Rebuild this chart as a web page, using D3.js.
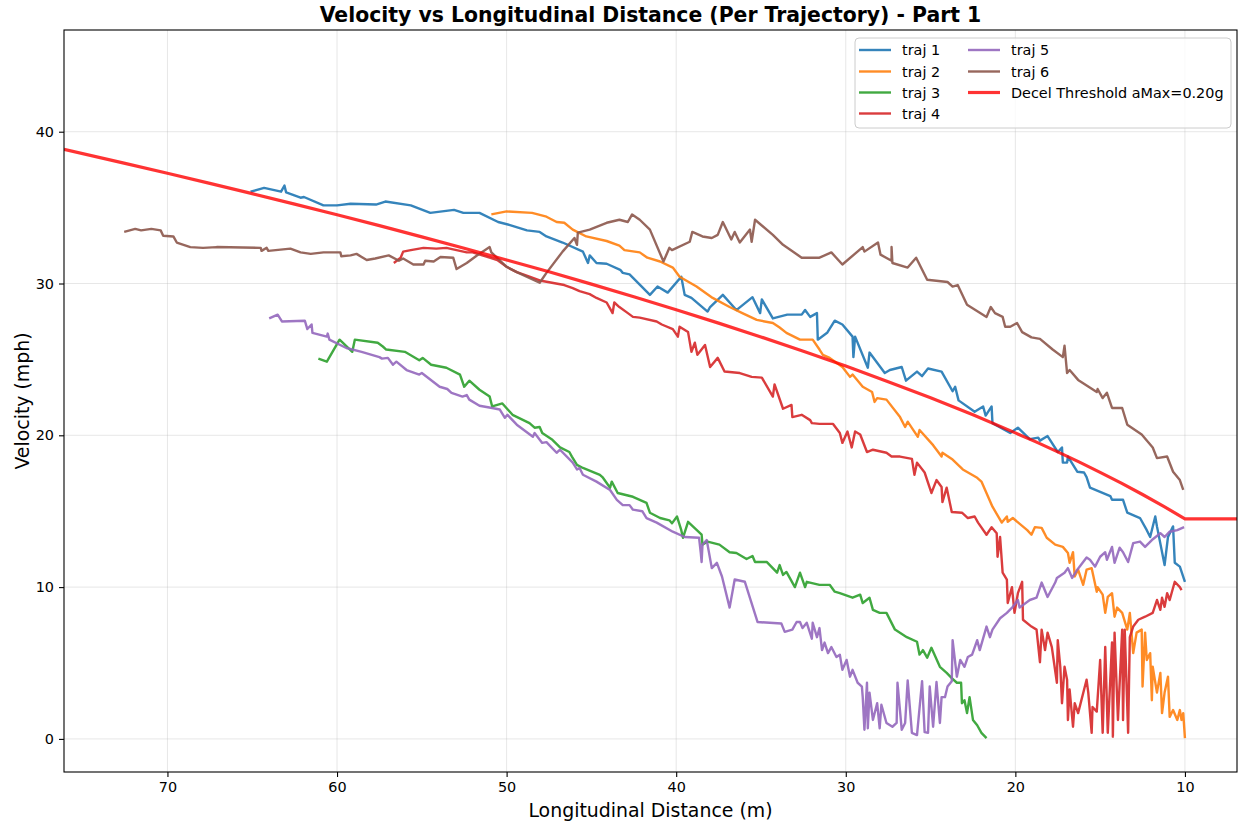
<!DOCTYPE html>
<html>
<head>
<meta charset="utf-8">
<script src="https://cdn.jsdelivr.net/npm/d3@7"></script>
<style>
  html, body { margin: 0; padding: 0; background: #ffffff; }
  svg { display: block; font-family: "DejaVu Sans", sans-serif; }
</style>
</head>
<body>
<svg id="chart" width="1238" height="826"></svg>
<script>
// Each trajectory: [longitudinal distance (m), velocity (mph)]
const traj1 = [[65.1,36.05],[64.3,36.3],[63.3,36.05],[63.1,36.45],[63.0,36.0],[62.15,35.65],[61.95,35.7],[60.8,35.15],[60.0,35.15],[59.2,35.25],[57.7,35.2],[57.15,35.4],[55.65,35.15],[54.5,34.65],[53.1,34.85],[52.55,34.65],[51.6,34.65],[50.5,34.05],[49.8,33.85],[48.8,33.5],[48.05,33.4],[47.65,33.1],[46.7,32.7],[45.5,32.1],[45.2,31.35],[45.1,31.85],[44.7,31.35],[44.1,31.3],[43.3,30.9],[43.15,30.7],[42.75,30.6],[41.55,29.25],[41.1,29.8],[40.5,29.4],[39.7,30.45],[39.5,29.25],[39.1,29.05],[38.15,28.15],[38.0,28.45],[37.25,29.25],[36.45,28.25],[35.5,29.1],[35.05,28.05],[34.95,28.95],[34.3,27.7],[33.45,27.95],[32.6,27.95],[32.4,28.25],[32.1,27.8],[31.7,28.05],[31.65,26.3],[31.1,26.75],[30.65,27.55],[30.2,27.3],[29.6,26.5],[29.55,25.15],[29.45,26.5],[28.7,24.45],[28.6,25.45],[27.7,24.1],[27.4,24.3],[26.7,24.5],[26.45,23.6],[25.8,24.2],[25.5,23.9],[25.15,24.4],[24.35,24.2],[23.7,22.9],[23.55,23.2],[23.35,22.3],[22.4,21.55],[21.9,21.9],[21.75,21.3],[21.4,21.9],[21.35,20.8],[20.3,20.15],[19.85,20.5],[19.15,19.75],[18.65,19.85],[18.55,19.65],[18.1,19.95],[17.5,18.9],[17.25,19.2],[17.2,18.2],[16.95,18.2],[16.9,18.6],[16.35,17.6],[15.95,17.55],[15.8,17.25],[15.6,16.55],[14.4,16.0],[14.3,15.75],[13.65,15.75],[13.4,14.9],[12.65,14.55],[12.25,13.75],[12.05,13.3],[11.75,14.65],[11.65,14.0],[11.2,11.45],[11.0,13.3],[10.7,14.0],[10.6,11.6],[10.3,11.35],[10.0,10.35]];

const traj2 = [[50.9,34.55],[50.0,34.75],[48.5,34.65],[47.65,34.4],[47.05,34.05],[46.6,34.0],[46.1,33.55],[45.3,33.1],[44.1,32.8],[43.35,32.5],[43.05,32.2],[42.15,32.05],[41.7,31.7],[40.95,31.45],[40.2,31.05],[39.8,30.45],[38.8,29.8],[37.85,29.05],[36.85,28.45],[36.1,28.05],[35.25,27.6],[34.3,27.4],[33.9,27.1],[33.5,26.75],[32.7,26.3],[31.95,26.3],[31.55,25.65],[31.35,25.3],[30.95,25.1],[30.2,24.5],[29.75,23.85],[29.6,24.0],[29.0,23.2],[28.45,22.85],[28.3,22.2],[28.15,22.45],[27.6,22.35],[26.8,21.2],[26.5,20.55],[26.35,20.9],[25.75,19.9],[25.65,20.35],[24.85,19.35],[24.35,18.6],[24.3,18.85],[23.7,18.4],[23.1,17.75],[22.25,17.2],[22.0,16.95],[21.35,15.3],[20.8,14.25],[20.5,14.65],[20.45,14.3],[20.15,14.55],[19.3,13.75],[19.05,13.45],[18.85,13.95],[18.45,13.9],[18.15,13.25],[17.65,12.8],[17.2,12.65],[16.9,12.25],[16.8,11.6],[16.6,12.3],[16.5,10.7],[16.3,11.15],[16.0,10.15],[15.8,11.15],[15.5,11.25],[15.2,9.7],[15.15,10.0],[14.85,9.5],[14.7,8.3],[14.55,9.35],[14.3,9.6],[14.15,8.05],[14.0,8.65],[13.7,8.3],[13.4,7.2],[13.25,8.3],[13.05,5.65],[12.85,7.0],[12.55,7.2],[12.5,3.45],[12.35,7.0],[12.25,5.2],[12.05,5.65],[11.95,2.55],[11.9,4.75],[11.65,3.05],[11.45,4.35],[11.35,1.7],[11.2,3.05],[11.0,4.1],[10.9,1.45],[10.7,1.9],[10.45,1.25],[10.3,1.9],[10.2,1.25],[10.1,1.7],[10.0,0.05]];

const traj3 = [[61.1,25.05],[60.6,24.85],[59.85,26.3],[59.1,25.5],[58.95,26.3],[57.6,26.1],[57.3,25.85],[57.1,25.65],[56.0,25.5],[55.15,24.95],[54.95,25.1],[54.45,24.65],[53.55,24.45],[52.75,24.0],[52.5,23.2],[52.2,23.6],[51.6,23.0],[51.0,22.55],[50.85,21.9],[50.25,22.1],[49.65,21.35],[48.65,20.8],[48.35,20.5],[48.05,20.55],[47.9,20.15],[47.3,19.7],[46.85,19.2],[46.3,18.9],[46.15,18.6],[45.85,18.05],[45.5,17.85],[44.5,17.4],[44.35,17.25],[43.9,16.55],[43.8,16.95],[43.45,16.2],[42.55,15.95],[42.25,15.8],[41.75,15.55],[41.55,14.9],[40.95,14.55],[40.4,14.4],[40.25,14.2],[39.95,14.65],[39.7,13.75],[39.6,13.25],[39.3,14.3],[38.5,13.45],[38.45,12.8],[38.15,13.0],[37.45,12.8],[36.85,12.3],[36.45,12.25],[35.85,11.85],[35.5,12.05],[35.35,11.65],[34.65,11.65],[34.05,10.95],[33.9,11.45],[33.7,10.8],[33.5,11.0],[33.0,10.0],[32.7,10.95],[32.4,10.0],[32.3,10.35],[31.55,10.15],[30.95,10.15],[30.65,9.7],[30.35,9.6],[29.6,9.3],[29.15,9.5],[29.0,8.95],[28.6,9.3],[28.4,8.5],[28.0,8.3],[27.6,8.3],[27.1,7.2],[26.4,6.7],[25.8,6.4],[25.65,5.55],[25.45,5.85],[25.2,5.35],[24.95,6.0],[24.45,4.75],[24.05,4.35],[23.75,4.0],[23.45,3.7],[23.2,3.7],[23.15,2.35],[23.0,2.55],[22.85,1.7],[22.7,2.75],[22.5,1.25],[22.25,0.9],[22.0,0.4],[21.7,0.05]];

const traj4 = [[56.65,31.35],[56.25,31.7],[56.1,32.1],[55.65,32.2],[54.9,32.35],[54.15,32.3],[53.55,32.35],[52.35,32.05],[52.0,32.05],[51.0,31.7],[50.55,31.55],[50.0,31.1],[49.4,30.75],[48.65,30.45],[48.05,30.2],[46.6,29.9],[46.1,29.7],[45.7,29.5],[45.1,29.3],[44.7,29.05],[44.1,28.75],[43.75,28.05],[43.65,28.75],[43.35,28.45],[42.85,28.05],[42.55,27.8],[42.15,27.75],[41.15,27.5],[40.85,27.3],[40.2,27.0],[39.9,26.5],[39.8,27.15],[39.3,26.8],[39.1,25.5],[38.9,26.1],[38.75,25.3],[38.3,25.95],[38.0,24.5],[37.55,25.1],[37.15,24.2],[36.25,24.1],[35.55,23.85],[34.95,23.8],[34.3,22.55],[34.2,23.35],[33.7,21.75],[33.2,22.0],[33.15,21.2],[32.6,21.35],[32.1,21.0],[32.0,20.8],[31.55,20.75],[30.75,20.75],[30.35,20.15],[30.2,19.5],[29.9,20.25],[29.65,19.2],[29.45,20.25],[29.15,20.05],[28.75,18.9],[28.4,19.05],[27.6,18.85],[27.3,18.6],[26.8,18.6],[26.1,18.45],[25.95,17.4],[25.8,18.2],[25.35,17.55],[24.95,16.2],[24.65,17.05],[24.35,16.6],[24.3,15.6],[24.05,16.55],[23.75,14.95],[23.15,14.9],[22.8,14.55],[22.4,14.65],[22.2,14.25],[21.7,13.45],[21.4,13.95],[21.1,13.55],[21.05,12.0],[20.9,13.3],[20.75,10.95],[20.5,10.5],[20.45,8.95],[20.2,10.0],[20.05,8.3],[19.85,9.6],[19.6,10.35],[19.55,7.85],[19.05,7.4],[18.75,7.2],[18.55,5.05],[18.45,7.2],[18.25,5.85],[18.1,7.0],[17.85,6.05],[17.55,3.7],[17.5,6.5],[17.35,4.75],[17.25,2.35],[17.1,4.75],[16.95,3.9],[16.9,1.25],[16.8,3.25],[16.6,0.8],[16.5,2.35],[16.3,1.7],[15.8,3.9],[15.7,3.05],[15.5,0.4],[15.45,2.1],[15.2,1.8],[15.0,5.2],[14.85,0.4],[14.7,6.05],[14.55,0.4],[14.3,6.35],[14.25,0.15],[14.15,7.0],[13.95,1.25],[13.7,7.2],[13.65,1.25],[13.55,7.2],[13.35,0.4],[13.25,6.7],[13.05,7.4],[12.75,7.85],[12.35,8.05],[11.9,8.3],[11.65,9.15],[11.45,8.5],[11.35,9.3],[11.2,8.7],[11.05,9.6],[10.9,9.15],[10.6,10.35],[10.3,10.0],[10.2,9.8]];

const traj5 = [[64.0,27.7],[63.5,27.95],[63.25,27.5],[61.9,27.55],[61.75,27.0],[61.5,27.3],[61.45,26.75],[60.6,26.5],[60.55,26.7],[60.45,26.3],[59.45,25.75],[58.55,25.5],[57.5,25.15],[57.35,25.05],[57.0,25.1],[56.7,24.65],[56.5,24.85],[55.9,24.3],[55.15,24.0],[55.0,24.1],[53.95,23.2],[53.5,23.05],[53.25,22.8],[52.6,22.55],[52.35,22.65],[52.2,22.35],[51.6,21.95],[50.85,21.8],[50.4,21.7],[50.1,21.15],[49.95,21.35],[49.4,20.7],[48.45,19.9],[48.35,20.15],[47.9,19.5],[47.65,19.55],[47.05,18.85],[46.85,19.05],[46.1,18.2],[45.85,17.75],[45.7,17.85],[45.5,17.4],[44.7,16.95],[43.9,16.4],[43.5,15.75],[43.15,15.4],[42.75,15.4],[42.55,15.1],[42.0,15.0],[41.75,14.55],[41.15,14.25],[40.2,13.65],[39.5,13.3],[38.65,13.25],[38.55,12.25],[38.5,11.65],[38.45,12.8],[38.2,13.1],[37.9,11.25],[37.6,11.6],[37.3,10.7],[36.85,8.65],[36.55,10.5],[35.95,10.35],[35.2,7.7],[33.8,7.6],[33.6,7.05],[33.15,7.2],[32.9,7.7],[32.7,7.7],[32.55,7.3],[32.3,7.65],[32.0,6.6],[31.95,7.65],[31.7,6.7],[31.55,7.3],[31.4,5.85],[31.25,6.35],[31.05,5.65],[30.85,6.05],[30.55,5.4],[30.35,5.55],[30.2,4.55],[29.95,5.2],[29.75,4.1],[29.6,4.55],[29.3,3.7],[29.05,3.45],[29.0,2.75],[28.9,0.6],[28.75,3.7],[28.7,0.7],[28.6,3.05],[28.4,1.25],[28.15,2.35],[28.0,0.7],[27.9,2.25],[27.6,1.05],[27.25,0.8],[27.0,1.05],[26.95,3.7],[26.7,0.6],[26.5,1.05],[26.35,3.85],[26.1,0.4],[25.8,0.25],[25.5,3.8],[25.35,0.45],[25.15,0.4],[25.05,3.45],[24.85,0.8],[24.65,3.75],[24.45,1.05],[24.35,2.75],[24.15,2.75],[24.0,3.45],[23.75,3.8],[23.7,6.5],[23.45,4.1],[23.25,5.2],[23.0,4.75],[22.8,5.4],[22.55,5.55],[22.25,6.5],[22.1,5.85],[21.7,7.4],[21.5,6.7],[21.35,7.2],[20.9,7.95],[20.5,8.3],[20.15,8.7],[19.85,9.15],[19.75,8.65],[19.15,9.15],[18.75,9.3],[18.45,10.3],[18.1,9.35],[17.65,10.3],[17.55,10.6],[17.1,10.95],[16.9,11.25],[16.65,10.6],[16.35,11.15],[15.8,11.95],[15.6,11.8],[15.3,11.35],[15.0,12.0],[14.7,12.3],[14.6,11.8],[14.3,12.65],[14.15,11.6],[13.85,12.6],[13.65,12.3],[13.35,11.65],[13.05,12.9],[12.65,13.0],[12.35,12.65],[11.95,13.1],[11.45,13.55],[11.2,13.3],[10.9,13.65],[10.45,13.75],[10.05,13.95]];

const traj6 = [[72.55,33.4],[71.9,33.6],[71.55,33.5],[70.95,33.6],[70.4,33.5],[70.25,33.15],[69.65,33.1],[69.45,32.7],[68.65,32.4],[67.9,32.35],[67.1,32.4],[64.5,32.35],[64.45,32.15],[64.15,32.35],[64.05,32.15],[62.75,32.3],[62.15,32.05],[61.55,31.95],[60.8,32.05],[59.8,32.05],[59.75,31.8],[59.2,31.85],[58.85,31.95],[58.25,31.55],[57.75,31.65],[56.95,31.85],[56.35,31.5],[56.1,31.65],[55.5,31.25],[54.9,31.25],[54.8,31.5],[54.3,31.45],[53.9,31.75],[53.15,31.7],[52.95,30.95],[52.35,31.35],[51.75,31.85],[51.0,32.4],[50.9,32.05],[50.0,31.1],[49.4,30.75],[48.05,30.05],[47.65,30.7],[46.7,32.1],[46.0,33.0],[45.85,32.55],[45.8,33.35],[45.1,33.55],[44.1,34.0],[43.35,34.2],[42.85,34.05],[42.6,34.55],[42.15,34.2],[41.55,33.55],[40.75,31.45],[40.4,32.35],[40.25,32.2],[39.2,32.75],[39.05,33.4],[38.45,33.1],[37.9,33.0],[37.55,33.2],[37.25,34.05],[36.75,32.9],[36.55,33.4],[36.25,32.7],[35.65,33.55],[35.55,32.75],[35.35,34.2],[34.3,33.2],[33.7,32.55],[32.6,31.7],[31.55,31.7],[30.85,32.05],[30.2,31.25],[29.0,32.4],[28.9,32.1],[28.1,32.7],[27.95,31.9],[27.3,31.5],[27.3,32.4],[27.25,31.35],[26.35,31.05],[25.85,31.7],[25.2,30.25],[24.0,30.1],[23.7,29.8],[23.4,29.9],[22.85,28.6],[21.7,27.8],[21.45,28.45],[21.2,28.05],[20.75,27.8],[20.6,27.15],[20.3,27.15],[19.9,27.4],[19.6,26.8],[19.05,26.45],[18.55,26.35],[17.8,25.65],[17.2,25.15],[17.1,25.9],[16.95,24.1],[16.8,24.3],[16.3,23.65],[15.2,22.85],[15.15,23.05],[14.85,22.45],[14.6,22.8],[14.3,21.8],[13.7,21.8],[13.4,20.7],[12.55,20.05],[11.9,19.2],[11.65,18.5],[11.05,18.6],[10.7,17.6],[10.3,17.05],[10.1,16.4]];

// Deceleration threshold (aMax = 0.20 g), flat below 10 m
const thresholdDistance = [76.1, 72.5, 70, 67.5, 65, 62.5, 60, 57.5, 55, 52.5, 50, 47.5, 45, 42.5, 40, 37.5, 35, 32.5, 30, 27.5, 25, 22.5, 20, 18.75, 17.5, 16.25, 15, 13.75, 12.5, 11.25, 10, 6.9];
const thresholdSpeed    = [38.84, 37.91, 37.26, 36.60, 35.92, 35.23, 34.53, 33.81, 33.07, 32.32, 31.55, 30.77, 29.96, 29.13, 28.27, 27.39, 26.48, 25.54, 24.56, 23.53, 22.47, 21.35, 20.16, 19.55, 18.91, 18.25, 17.56, 16.85, 16.10, 15.32, 14.5, 14.5];

const seriesNames  = ["traj 1", "traj 2", "traj 3", "traj 4", "traj 5", "traj 6"];
const seriesColors = ["#1f77b4", "#ff7f0e", "#2ca02c", "#d62728", "#9467bd", "#8c564b"];
const thresholdLabel = "Decel Threshold aMax=0.20g";
const xTicks = [70, 60, 50, 40, 30, 20, 10];
const yTicks = [0, 10, 20, 30, 40];

const seriesData = [traj1, traj2, traj3, traj4, traj5, traj6];
const threshold = thresholdDistance.map((d, i) => [d, thresholdSpeed[i]]);

const m = { left: 64, right: 1237, top: 30, bottom: 772 };
const TRAJ_WIDTH = 2.4, THRESH_WIDTH = 3.2;

const svg = d3.select("#chart");

const x = d3.scaleLinear().domain([76.1, 6.93]).range([m.left, m.right]);
const y = d3.scaleLinear().domain([-2.18, 46.7]).range([m.bottom, m.top]);

svg.append("defs").append("clipPath").attr("id", "plot-clip")
  .append("rect")
  .attr("x", m.left).attr("y", m.top)
  .attr("width", m.right - m.left).attr("height", m.bottom - m.top);

// grid
const grid = svg.append("g").attr("class", "grid");
grid.selectAll("line.gx").data(xTicks).join("line")
  .attr("x1", d => x(d)).attr("x2", d => x(d))
  .attr("y1", m.top).attr("y2", m.bottom)
  .attr("stroke", "#b0b0b0").attr("stroke-opacity", 0.3).attr("stroke-width", 1);
grid.selectAll("line.gy").data(yTicks).join("line")
  .attr("y1", d => y(d)).attr("y2", d => y(d))
  .attr("x1", m.left).attr("x2", m.right)
  .attr("stroke", "#b0b0b0").attr("stroke-opacity", 0.3).attr("stroke-width", 1);

const line = d3.line().x(d => x(d[0])).y(d => y(d[1]));

const plot = svg.append("g").attr("clip-path", "url(#plot-clip)");
plot.selectAll("path.traj").data(seriesData).join("path")
  .attr("class", "traj")
  .attr("d", line)
  .attr("fill", "none")
  .attr("stroke", (d, i) => seriesColors[i])
  .attr("stroke-opacity", 0.9)
  .attr("stroke-width", TRAJ_WIDTH)
  .attr("stroke-linejoin", "round");

plot.append("path")
  .attr("d", line(threshold))
  .attr("fill", "none")
  .attr("stroke", "#ff0000")
  .attr("stroke-opacity", 0.8)
  .attr("stroke-width", THRESH_WIDTH)
  .attr("stroke-linejoin", "round");

// axes
const xAxis = d3.axisBottom(x).tickValues(xTicks).tickSize(5).tickPadding(5);
const yAxis = d3.axisLeft(y).tickValues(yTicks).tickSize(5).tickPadding(5);

const gx = svg.append("g").attr("transform", `translate(0,${m.bottom})`).call(xAxis);
const gy = svg.append("g").attr("transform", `translate(${m.left},0)`).call(yAxis);
[gx, gy].forEach(g => {
  g.select(".domain").remove();
  g.selectAll(".tick line").attr("stroke", "#000").attr("stroke-width", 1.1);
  g.selectAll(".tick text").attr("fill", "#000").style("font-size", "14.4px")
    .style("font-family", "DejaVu Sans, sans-serif");
});

// frame
svg.append("rect")
  .attr("x", m.left).attr("y", m.top)
  .attr("width", m.right - m.left).attr("height", m.bottom - m.top)
  .attr("fill", "none").attr("stroke", "#000").attr("stroke-width", 1.1);

// title and labels
svg.append("text")
  .attr("x", (m.left + m.right) / 2).attr("y", 22)
  .attr("text-anchor", "middle")
  .style("font-size", "20.4px").style("font-weight", "bold")
  .text("Velocity vs Longitudinal Distance (Per Trajectory) - Part 1");

svg.append("text")
  .attr("x", (m.left + m.right) / 2).attr("y", 817)
  .attr("text-anchor", "middle")
  .style("font-size", "18.9px")
  .text("Longitudinal Distance (m)");

svg.append("text")
  .attr("transform", `translate(29,${(m.top + m.bottom) / 2}) rotate(-90)`)
  .attr("text-anchor", "middle")
  .style("font-size", "18.9px")
  .text("Velocity (mph)");

// legend
const legendItems = seriesNames.map((n, i) => ({ name: n, color: seriesColors[i], width: TRAJ_WIDTH, opacity: 0.9 }))
  .concat([{ name: thresholdLabel, color: "#ff0000", width: THRESH_WIDTH, opacity: 0.8 }]);
const colX = [859, 968];
const rowY = [50, 71.5, 92.5, 113.5];
const legend = svg.append("g");
legend.append("rect")
  .attr("x", 855).attr("y", 38).attr("width", 376).attr("height", 90)
  .attr("rx", 4).attr("ry", 4)
  .attr("fill", "#ffffff").attr("fill-opacity", 0.8)
  .attr("stroke", "#cccccc").attr("stroke-width", 1);
const pos = i => i < 4 ? [colX[0], rowY[i]] : [colX[1], rowY[i - 4]];
const li = legend.selectAll("g.item").data(legendItems).join("g")
  .attr("transform", (d, i) => `translate(${pos(i)[0]},${pos(i)[1]})`);
li.append("line").attr("x1", 0).attr("x2", 32).attr("y1", 0).attr("y2", 0)
  .attr("stroke", d => d.color).attr("stroke-width", d => d.width).attr("stroke-opacity", d => d.opacity);
li.append("text").attr("x", 43).attr("y", 5)
  .style("font-size", "14.4px")
  .text(d => d.name);
</script>
</body>
</html>
